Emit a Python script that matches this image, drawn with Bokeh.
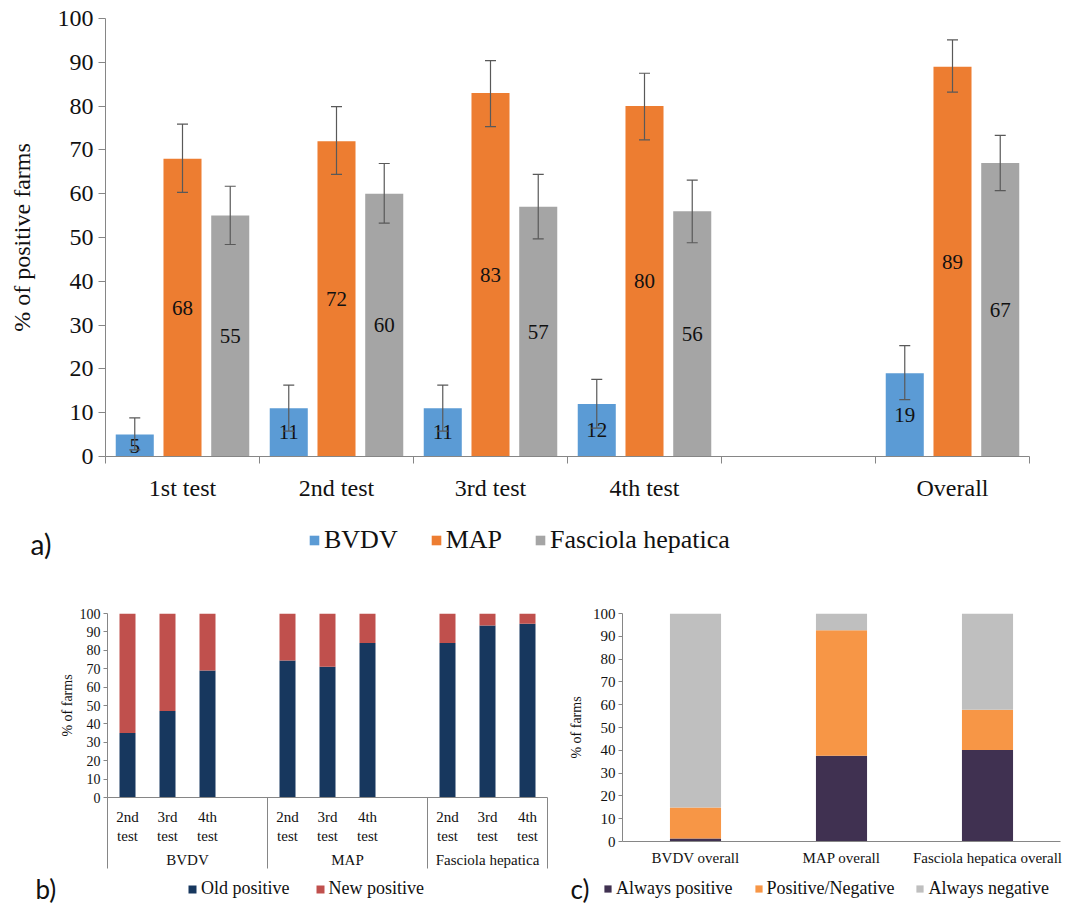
from bokeh.plotting import figure
from bokeh.models import (Range1d, FixedTicker, LinearAxis, Legend, LegendItem, Whisker,
                          TeeHead, ColumnDataSource, Label, FactorRange)
from bokeh.layouts import column, row
from bokeh.embed import file_html
from bokeh.resources import INLINE
from bokeh.core.properties import value

SERIF = "Liberation Serif"
SANS = "Lato"
AXIS_GRAY = "#868686"
TXT = "#111111"

# ---------------- a) data ----------------
a_categories = ["1st test", "2nd test", "3rd test", "4th test", "", "Overall"]
a_series = ["BVDV", "MAP", "Fasciola hepatica"]
a_colors = ["#5B9BD5", "#ED7D31", "#A5A5A5"]
a_bvdv = [5, 11, 11, 12, 19]
a_map = [68, 72, 83, 80, 89]
a_fasc = [55, 60, 57, 56, 67]
a_bvdv_low = [1.5, 5.8, 5.8, 6.5, 13.0]
a_bvdv_high = [8.8, 16.3, 16.3, 17.6, 25.3]
a_map_low = [60.3, 64.4, 75.3, 72.3, 83.2]
a_map_high = [75.9, 79.9, 90.4, 87.5, 95.1]
a_fasc_low = [48.4, 53.3, 49.7, 48.8, 60.7]
a_fasc_high = [61.7, 66.9, 64.4, 63.1, 73.3]
a_yticks = list(range(0, 101, 10))

# ---------------- b) data ----------------
b_groups = ["BVDV", "MAP", "Fasciola hepatica"]
b_tests = ["2nd test", "3rd test", "4th test"]
b_series = ["Old positive", "New positive"]
b_colors = ["#17375E", "#C0504D"]
b_old = [35, 47, 69, 74.5, 71, 84, 84, 93.5, 94.4]
b_new = [65, 53, 31, 25.5, 29, 16, 16, 6.5, 5.6]

# ---------------- c) data ----------------
c_categories = ["BVDV overall", "MAP overall", "Fasciola hepatica overall"]
c_series = ["Always positive", "Positive/Negative", "Always negative"]
c_colors = ["#403151", "#F79646", "#BFBFBF"]
c_always_pos = [1.3, 37.6, 40.1]
c_pos_neg = [13.6, 55.1, 17.7]
c_always_neg = [85.1, 7.3, 42.2]


def style_common(p):
    p.xgrid.visible = False
    p.ygrid.visible = False
    p.outline_line_color = None
    p.background_fill_color = "white"
    p.border_fill_color = "white"


def style_axis(ax, font_size, tick_out):
    ax.axis_line_color = AXIS_GRAY
    ax.major_tick_line_color = AXIS_GRAY
    ax.minor_tick_line_color = AXIS_GRAY
    ax.major_tick_out = tick_out
    ax.major_tick_in = 0
    ax.minor_tick_in = 0
    ax.minor_tick_out = 0
    ax.major_label_text_font = SERIF
    ax.major_label_text_font_size = font_size
    ax.major_label_text_color = TXT
    ax.axis_label_text_font = SERIF
    ax.axis_label_text_font_style = "normal"
    ax.axis_label_text_color = TXT


def legend_strip(width, height):
    f = figure(width=width, height=height, x_range=Range1d(0, 1), y_range=Range1d(0, 1),
               x_axis_type=None, y_axis_type=None, output_backend="svg", toolbar_location=None,
               min_border_left=0, min_border_right=0, min_border_top=0, min_border_bottom=0)
    f.outline_line_color = None
    f.background_fill_color = "white"
    f.border_fill_color = "white"
    return f


def add_legend(f, names, colors, font_size, glyph, x, y, spacing):
    items = []
    for n, c in zip(names, colors):
        # zero-height swatch renderer: only used to give the legend its colour key
        r = f.vbar(x=[0.5], top=[0], bottom=[0], width=0, fill_color=c, line_color=None)
        items.append(LegendItem(label=n, renderers=[r]))
    f.add_layout(Legend(items=items, orientation="horizontal", location=(x, y),
                        glyph_width=glyph, glyph_height=glyph,
                        label_text_font=SERIF, label_text_font_size=font_size, label_text_color=TXT,
                        label_standoff=4, spacing=spacing, padding=0, margin=0,
                        border_line_color=None, background_fill_alpha=0))


def add_tag(f, text, x, y, size="26px"):
    f.add_layout(Label(x=x, y=y, x_units="screen", y_units="screen", text=text,
                       text_font=SANS, text_font_size=size, text_baseline="middle", text_color=TXT))


# ================= a) =================
pa = figure(width=1066, height=510, x_range=Range1d(0, len(a_categories)), y_range=Range1d(0, 100),
            output_backend="svg", toolbar_location=None,
            min_border_left=105, min_border_right=37, min_border_top=18, min_border_bottom=54)
style_common(pa)

slots = [i for i, c in enumerate(a_categories) if c]
offsets = [-0.31, 0.0, 0.31]
a_vals = [a_bvdv, a_map, a_fasc]
a_lows = [a_bvdv_low, a_map_low, a_fasc_low]
a_highs = [a_bvdv_high, a_map_high, a_fasc_high]
for k in range(3):
    xs = [s + 0.5 + offsets[k] for s in slots]
    src = ColumnDataSource(dict(x=xs, top=a_vals[k], mid=[v / 2 for v in a_vals[k]],
                                lab=[str(v) for v in a_vals[k]],
                                lower=a_lows[k], upper=a_highs[k]))
    pa.vbar(x="x", top="top", width=0.247, source=src, fill_color=a_colors[k], line_color=None)
    pa.add_layout(Whisker(base="x", upper="upper", lower="lower", source=src, level="overlay",
                          line_color="#595959", line_width=1.2,
                          upper_head=TeeHead(size=11, line_color="#595959", line_width=1.2),
                          lower_head=TeeHead(size=11, line_color="#595959", line_width=1.2)))
    pa.text(x="x", y="mid", text="lab", source=src, text_align="center", text_baseline="middle",
            text_font=value(SERIF), text_font_size="21px", text_color=TXT, level="overlay")

xa = pa.xaxis[0]
style_axis(xa, "24px", 0)
xa.ticker = FixedTicker(ticks=[i + 0.5 for i in range(len(a_categories))],
                        minor_ticks=list(range(len(a_categories) + 1)))
xa.minor_tick_out = 7
xa.major_label_overrides = {i + 0.5: c for i, c in enumerate(a_categories)}
xa.major_label_standoff = 11

ya = pa.yaxis[0]
style_axis(ya, "24px", 7)
ya.ticker = FixedTicker(ticks=a_yticks)
ya.major_label_standoff = 5
ya.axis_label = "% of positive farms"
ya.axis_label_text_font_size = "24px"
ya.axis_label_standoff = 20

leg_a = legend_strip(1066, 55)
add_legend(leg_a, a_series, a_colors, "26px", 12, 308, 10, 32)
add_tag(leg_a, "a)", 30, 22, "28px")

# ================= b) =================
n_slots_b = len(b_groups) * (len(b_tests) + 1) - 1
pb = figure(width=565, height=307, x_range=Range1d(0, n_slots_b), y_range=Range1d(0, 100),
            output_backend="svg", toolbar_location=None,
            min_border_left=107, min_border_right=18, min_border_top=48, min_border_bottom=75)
style_common(pb)

bx, blab = [], []
for g in range(len(b_groups)):
    for t in range(len(b_tests)):
        bx.append(g * (len(b_tests) + 1) + t + 0.5)
        blab.append(b_tests[t].replace(" ", "\n"))
bsrc = ColumnDataSource(dict(x=bx, old=b_old, new=b_new))
pb.vbar_stack(["old", "new"], x="x", width=0.4, source=bsrc, color=b_colors, line_color=None)

boundaries = [g * (len(b_tests) + 1) for g in range(len(b_groups))] + [n_slots_b]
gcenters = [(boundaries[i] + boundaries[i + 1]) / 2 for i in range(len(b_groups))]

xb = pb.xaxis[0]
style_axis(xb, "15px", 0)
xb.ticker = FixedTicker(ticks=bx, minor_ticks=boundaries)
xb.minor_tick_out = 71
xb.major_label_overrides = dict(zip(bx, blab))
xb.major_label_standoff = -60

xb2 = LinearAxis(ticker=FixedTicker(ticks=gcenters), major_label_overrides=dict(zip(gcenters, b_groups)))
style_axis(xb2, "15px", 0)
xb2.axis_line_color = None
xb2.major_tick_line_color = None
xb2.minor_tick_line_color = None
xb2.major_label_standoff = 5
pb.add_layout(xb2, "below")

yb = pb.yaxis[0]
style_axis(yb, "14px", 4)
yb.ticker = FixedTicker(ticks=a_yticks)
yb.major_label_standoff = 3
yb.axis_label = "% of farms"
yb.axis_label_text_font_size = "14px"
yb.axis_label_standoff = 2

# ================= c) =================
pc = figure(width=501, height=307, x_range=FactorRange(factors=c_categories), y_range=Range1d(0, 100),
            output_backend="svg", toolbar_location=None,
            min_border_left=56, min_border_right=6, min_border_top=48, min_border_bottom=31)
style_common(pc)
csrc = ColumnDataSource(dict(cat=c_categories, ap=c_always_pos, pn=c_pos_neg, an=c_always_neg))
pc.vbar_stack(["ap", "pn", "an"], x="cat", width=0.35, source=csrc, color=c_colors, line_color=None)

xc = pc.xaxis[0]
style_axis(xc, "15px", 0)
xc.major_label_standoff = 8
xc.major_tick_line_color = None

yc = pc.yaxis[0]
style_axis(yc, "15px", 4)
yc.ticker = FixedTicker(ticks=a_yticks)
yc.major_label_standoff = 3
yc.axis_label = "% of farms"
yc.axis_label_text_font_size = "14px"
yc.axis_label_standoff = 6

# legends of b) and c)
leg_bc = legend_strip(1066, 33)
add_legend(leg_bc, b_series, b_colors, "18px", 10, 187, 6, 25)
add_legend(leg_bc, c_series, c_colors, "18px", 9, 603, 6, 21)
add_tag(leg_bc, "b)", 35, 17)
add_tag(leg_bc, "c)", 570, 17)

layout = column(pa, row(leg_a), row(column(pb), column(pc)), row(leg_bc))
open("out.html", "w").write(file_html(layout, INLINE))
